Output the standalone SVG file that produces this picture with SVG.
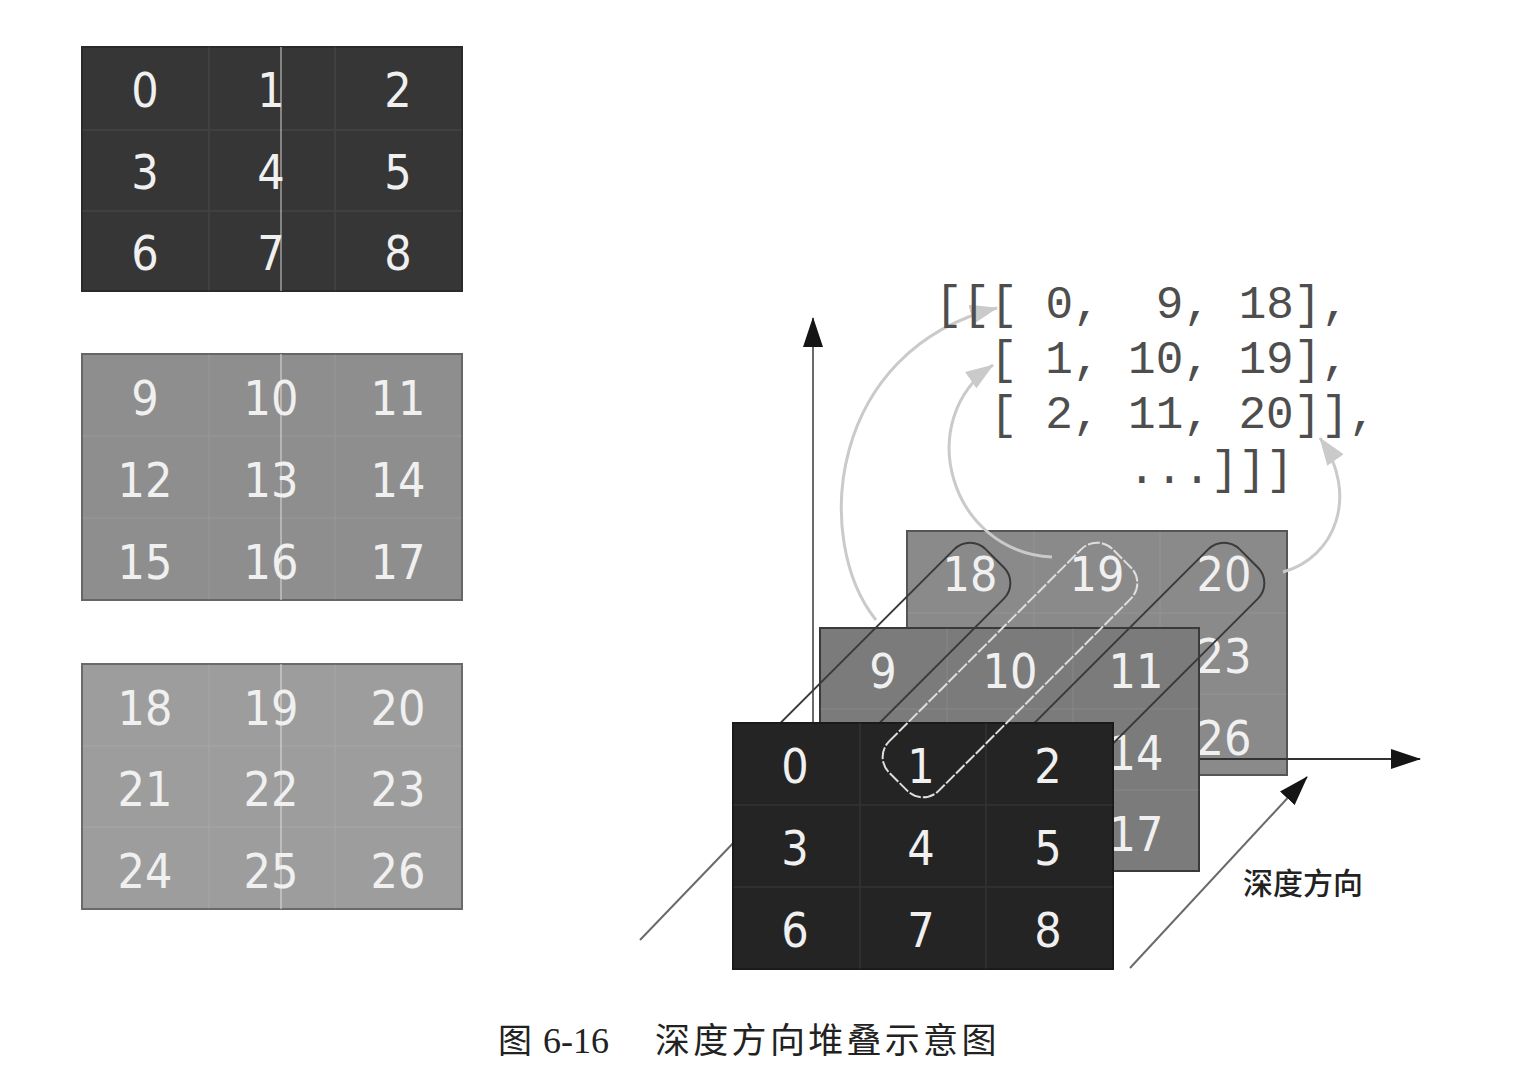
<svg xmlns="http://www.w3.org/2000/svg" width="1518" height="1080" viewBox="0 0 1518 1080">
  <style>
    .num { font-family: "DejaVu Sans Condensed", "DejaVu Sans", sans-serif; font-stretch: condensed; font-size: 48px; fill: #f0f0f0; text-anchor: middle; }
    .cell { fill: none; stroke: #ffffff; stroke-opacity: 0.07; stroke-width: 1.5; }
    .code { font-family: "Liberation Mono", "Courier New", monospace; font-size: 46px; fill: #4e4e4e; }
    .axis { stroke: #6a6a6a; stroke-width: 2; fill: none; }
    .curve { stroke: #cacaca; stroke-width: 3; fill: none; }
    .capd { fill: none; stroke: #3a3a3a; stroke-width: 2; }
    .capl { fill: none; stroke: #dedede; stroke-width: 2; stroke-dasharray: 12 2; }
    .scan { stroke: #e6e6e6; stroke-opacity: 0.6; stroke-width: 1.5; }
  </style>
  <defs>
    <marker id="ah" viewBox="0 0 30 20" refX="29" refY="10" markerWidth="30" markerHeight="20" markerUnits="userSpaceOnUse" orient="auto">
      <path d="M0,0 L30,10 L0,20 z" fill="#151515"/>
    </marker>
    <marker id="al" viewBox="0 0 28 20" refX="27" refY="10" markerWidth="28" markerHeight="20" markerUnits="userSpaceOnUse" orient="auto">
      <path d="M0,0 L28,10 L0,20 z" fill="#cacaca"/>
    </marker>
  </defs>

  <!-- Left: three separate layers -->
  <g id="layer0-left">
    <rect x="82" y="47" width="380" height="244" fill="#363636" stroke="#2a2a2a" stroke-width="2"/>
    <path class="cell" d="M209,47 V291 M335,47 V291 M82,130 H462 M82,211 H462"/>
    <line class="scan" x1="281" y1="47" x2="281" y2="291"/>
    <text class="num" x="145" y="107">0</text><text class="num" x="271" y="107">1</text><text class="num" x="398" y="107">2</text>
    <text class="num" x="145" y="189">3</text><text class="num" x="271" y="189">4</text><text class="num" x="398" y="189">5</text>
    <text class="num" x="145" y="270">6</text><text class="num" x="271" y="270">7</text><text class="num" x="398" y="270">8</text>
  </g>
  <g id="layer1-left">
    <rect x="82" y="354" width="380" height="246" fill="#8e8e8e" stroke="#666" stroke-width="2"/>
    <path class="cell" d="M209,354 V600 M335,354 V600 M82,436 H462 M82,518 H462"/>
    <line class="scan" x1="281" y1="354" x2="281" y2="600"/>
    <text class="num" x="145" y="415">9</text><text class="num" x="271" y="415">10</text><text class="num" x="398" y="415">11</text>
    <text class="num" x="145" y="497">12</text><text class="num" x="271" y="497">13</text><text class="num" x="398" y="497">14</text>
    <text class="num" x="145" y="579">15</text><text class="num" x="271" y="579">16</text><text class="num" x="398" y="579">17</text>
  </g>
  <g id="layer2-left">
    <rect x="82" y="664" width="380" height="245" fill="#9d9d9d" stroke="#6a6a6a" stroke-width="2"/>
    <path class="cell" d="M209,664 V909 M335,664 V909 M82,746 H462 M82,827 H462"/>
    <line class="scan" x1="281" y1="664" x2="281" y2="909"/>
    <text class="num" x="145" y="725">18</text><text class="num" x="271" y="725">19</text><text class="num" x="398" y="725">20</text>
    <text class="num" x="145" y="806">21</text><text class="num" x="271" y="806">22</text><text class="num" x="398" y="806">23</text>
    <text class="num" x="145" y="888">24</text><text class="num" x="271" y="888">25</text><text class="num" x="398" y="888">26</text>
  </g>

  <!-- Axes behind stack -->
  <g id="axes-back">
    <line class="axis" x1="640" y1="940" x2="813" y2="760"/>
    <line class="axis" x1="813" y1="723" x2="813" y2="318" marker-end="url(#ah)"/>
  </g>

  <!-- Right: stacked layers -->
  <g id="layer2-stack">
    <rect x="907" y="531" width="380" height="244" fill="#8a8a8a" stroke="#555" stroke-width="2"/>
    <path class="cell" d="M1034,531 V775 M1160,531 V775 M907,613 H1287 M907,694 H1287"/>
    <text class="num" x="970" y="591">18</text><text class="num" x="1097" y="591">19</text><text class="num" x="1224" y="591">20</text>
    <text class="num" x="1224" y="673">23</text>
    <text class="num" x="1224" y="755">26</text>
  </g>

  <g id="connectors">
    <line class="axis" x1="1199" y1="759" x2="1420" y2="759" marker-end="url(#ah)" style="stroke:#333"/>
  </g>

  <g id="layer1-stack">
    <rect x="820" y="628" width="379" height="243" fill="#7b7b7b" stroke="#3a3a3a" stroke-width="2"/>
    <path class="cell" d="M947,628 V871 M1073,628 V871 M820,709 H1199 M820,790 H1199"/>
    <text class="num" x="883" y="688">9</text><text class="num" x="1010" y="688">10</text><text class="num" x="1136" y="688">11</text>
    <text class="num" x="1136" y="770">14</text>
    <text class="num" x="1136" y="851">17</text>
  </g>

  <g id="groups-dark">
    <rect class="capd" x="-158" y="-35" width="316" height="70" rx="22" transform="translate(883,670) rotate(-45)"/>
    <rect class="capd" x="-158" y="-35" width="316" height="70" rx="22" transform="translate(1137,670) rotate(-45)"/>
  </g>

  <g id="layer0-stack">
    <rect x="733" y="723" width="380" height="246" fill="#242424" stroke="#1a1a1a" stroke-width="2"/>
    <path class="cell" d="M860,723 V969 M986,723 V969 M733,805 H1113 M733,887 H1113"/>
    <text class="num" x="795" y="783">0</text><text class="num" x="921" y="783">1</text><text class="num" x="1048" y="783">2</text>
    <text class="num" x="795" y="865">3</text><text class="num" x="921" y="865">4</text><text class="num" x="1048" y="865">5</text>
    <text class="num" x="795" y="947">6</text><text class="num" x="921" y="947">7</text><text class="num" x="1048" y="947">8</text>
  </g>

  <g id="group-light">
    <rect class="capl" x="-158" y="-35" width="316" height="70" rx="22" transform="translate(1010,670) rotate(-45)"/>
  </g>

  <g id="mapping-arrows">
    <path class="curve" d="M876,620 C812,540 828,350 997,308" marker-end="url(#al)"/>
    <path class="curve" d="M1052,557 C950,552 912,420 993,365" marker-end="url(#al)"/>
    <path class="curve" d="M1283,572 C1335,558 1360,495 1320,438" marker-end="url(#al)"/>
  </g>

  <g id="depth-arrow">
    <line class="axis" x1="1130" y1="968" x2="1307" y2="777" marker-end="url(#ah)"/>
    <text x="1243" y="894" font-family="'Noto Sans CJK SC', sans-serif" font-size="30" font-weight="500" fill="#222">深度方向</text>
  </g>

  <g id="array-text">
    <text class="code" x="935" y="318" xml:space="preserve">[[[ 0,  9, 18],</text>
    <text class="code" x="990" y="373" xml:space="preserve">[ 1, 10, 19],</text>
    <text class="code" x="990" y="428" xml:space="preserve">[ 2, 11, 20]],</text>
    <text class="code" x="1128" y="483" xml:space="preserve">...]]]</text>
  </g>

  <g id="caption">
    <text x="498" y="1053" font-family="'Noto Sans CJK SC', sans-serif" font-size="34" fill="#222">图</text>
    <text x="543" y="1053" font-family="'Liberation Serif', serif" font-size="36" fill="#222">6-16</text>
    <text x="655" y="1053" font-family="'Noto Sans CJK SC', sans-serif" font-size="35" letter-spacing="3.3" fill="#222">深度方向堆叠示意图</text>
  </g>
</svg>
